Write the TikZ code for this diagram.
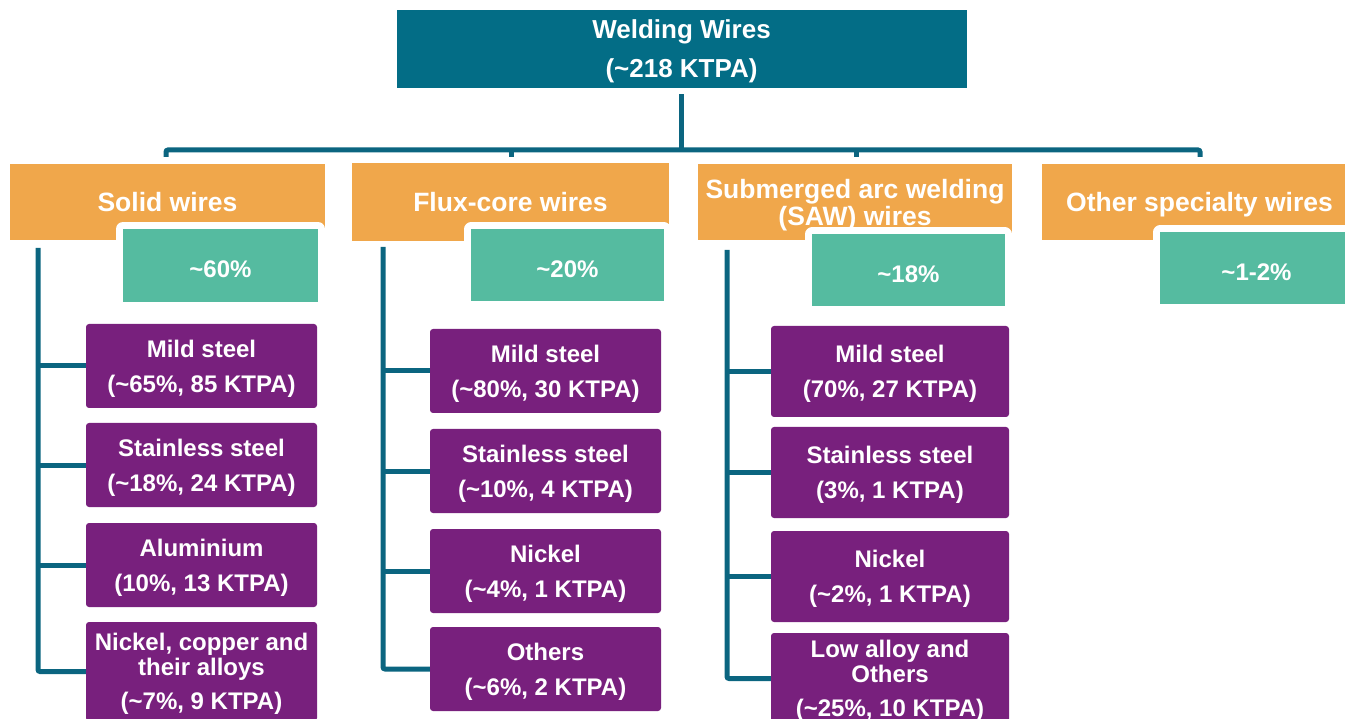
\documentclass[tikz,border=0pt]{standalone}
\usepackage{fontspec}
\setmainfont{Liberation Sans}
\definecolor{topc}{HTML}{036D86}
\definecolor{linec}{HTML}{0B6580}
\definecolor{orangec}{HTML}{F0A74B}
\definecolor{greenc}{HTML}{55BBA0}
\definecolor{purplec}{HTML}{78207D}
\begin{document}
\begin{tikzpicture}[x=1pt,y=-1pt,
  conn/.style={draw=linec, line width=5pt},
  topbox/.style={fill=topc, text=white, font=\bfseries\fontsize{26}{30}\selectfont, align=center, inner sep=0pt, text depth=0pt},
  catbox/.style={fill=orangec, text=white, font=\bfseries\fontsize{26.5}{27}\selectfont, align=center, inner sep=0pt, minimum height=76pt, text depth=0pt},
  sharebox/.style={fill=greenc, inner sep=0pt, minimum width=193pt, minimum height=72pt, preaction={draw=white, line width=14pt, line join=round}},
  sharetext/.style={label={[text=white, font=\bfseries\fontsize{24}{26}\selectfont, yshift=-4pt]center:#1}},
  subbox/.style={fill=purplec, text=white, font=\bfseries\fontsize{24}{25}\selectfont, align=center, inner sep=0pt, rounded corners=3pt, text depth=0pt},
  solidsub/.style={subbox, minimum width=231pt, minimum height=84pt},
  fluxsub/.style={subbox, minimum width=231pt, minimum height=84pt},
  sawsub/.style={subbox, minimum width=238pt, minimum height=91pt},
]
\useasboundingbox (0,0) rectangle (1345,719);
\clip (0,0) rectangle (1345,719);

% top
\node[topbox, minimum width=570pt, minimum height=78pt] (top) at (681.5,49) {Welding Wires\\[9pt](\textasciitilde218 KTPA)};

% categories
\node[catbox, minimum width=315pt] (c1) at (167.5,202) {Solid wires};
\node[catbox, minimum width=317pt, minimum height=78pt] (c2) at (510.5,202) {Flux-core wires};
\node[catbox, minimum width=314pt] (c3) at (855,202) {Submerged arc welding\\(SAW) wires};
\node[catbox, minimum width=315pt] (c4) at (1199.5,202) {Other specialty wires};

% shares
\node[sharebox, minimum width=195pt, minimum height=73pt, sharetext={\textasciitilde60\%}] (g1) at (220.5,265.5) {};
\node[sharebox, sharetext={\textasciitilde20\%}] (g2) at (567.5,265.5) {};
\node[sharebox, sharetext={\textasciitilde18\%}] (g3) at (908.5,270.5) {};
\node[sharebox, sharetext={\textasciitilde1-2\%}] (g4) at (1256.5,268.5) {};

% solid wires
\node[solidsub] (s1) at (201.5,366) {Mild steel\\[10pt](\textasciitilde65\%, 85 KTPA)};
\node[solidsub] (s2) at (201.5,465) {Stainless steel\\[10pt](\textasciitilde18\%, 24 KTPA)};
\node[solidsub] (s3) at (201.5,565) {Aluminium\\[10pt](10\%, 13 KTPA)};
\node[solidsub, minimum height=99pt] (s4) at (201.5,671.5) {Nickel, copper and\\their alloys\\[9pt](\textasciitilde7\%, 9 KTPA)};

% flux-core wires
\node[fluxsub] (f1) at (545.5,371) {Mild steel\\[10pt](\textasciitilde80\%, 30 KTPA)};
\node[fluxsub] (f2) at (545.5,471) {Stainless steel\\[10pt](\textasciitilde10\%, 4 KTPA)};
\node[fluxsub] (f3) at (545.5,571) {Nickel\\[10pt](\textasciitilde4\%, 1 KTPA)};
\node[fluxsub] (f4) at (545.5,669) {Others\\[10pt](\textasciitilde6\%, 2 KTPA)};

% SAW wires
\node[sawsub] (w1) at (890,371.5) {Mild steel\\[10pt](70\%, 27 KTPA)};
\node[sawsub] (w2) at (890,472.5) {Stainless steel\\[10pt](3\%, 1 KTPA)};
\node[sawsub] (w3) at (890,576.5) {Nickel\\[10pt](\textasciitilde2\%, 1 KTPA)};
\node[sawsub] (w4) at (890,678.5) {Low alloy and\\Others\\[9pt](\textasciitilde25\%, 10 KTPA)};

% top tree
\coordinate (hub) at (681.5,150);
\coordinate (d1) at (166,157);
\coordinate (d2) at (511,157);
\coordinate (d3) at (856,157);
\coordinate (d4) at (1200,157);
\draw[conn] ([yshift=-6pt]top.south) -- (hub);
\draw[conn, rounded corners=2pt] (d1) |- (hub) -| (d4);
\draw[conn] (d2) -- (d2|-hub);
\draw[conn] (d3) -- (d3|-hub);

% solid branches
\coordinate (sv) at (38,248);
\draw[conn, rounded corners=2pt] (sv) |- (s4.west);
\draw[conn] (sv|-s1.west) -- (s1.west);
\draw[conn] (sv|-s2.west) -- (s2.west);
\draw[conn] (sv|-s3.west) -- (s3.west);

% flux branches
\coordinate (fv) at (383,247);
\draw[conn, rounded corners=2pt] (fv) |- (f4.west);
\draw[conn] (fv|-f1.west) -- (f1.west);
\draw[conn] (fv|-f2.west) -- (f2.west);
\draw[conn] (fv|-f3.west) -- (f3.west);

% SAW branches
\coordinate (wv) at (727,250);
\draw[conn, rounded corners=2pt] (wv) |- (w4.west);
\draw[conn] (wv|-w1.west) -- (w1.west);
\draw[conn] (wv|-w2.west) -- (w2.west);
\draw[conn] (wv|-w3.west) -- (w3.west);
\end{tikzpicture}
\end{document}
